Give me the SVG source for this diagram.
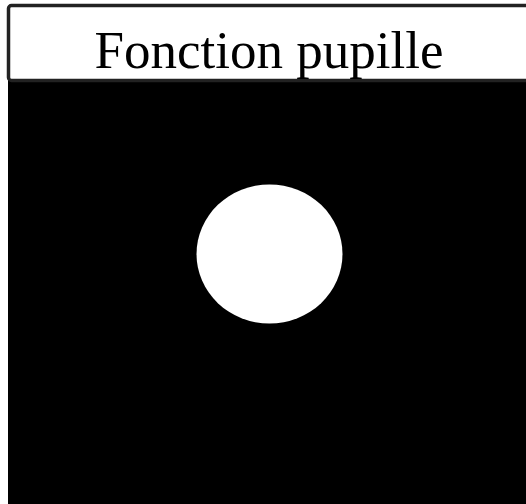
<svg xmlns="http://www.w3.org/2000/svg" width="526" height="504" viewBox="0 0 526 504">
<style>
.title{font-family:"Liberation Serif","Times New Roman",serif;font-size:53px;fill:#000}
</style>
<rect width="526" height="504" fill="#fff"/>
<g id="pupil-image">
<rect x="8" y="80" width="530" height="430" fill="#000"/>
<ellipse cx="269.5" cy="254" rx="73" ry="69.5" fill="#fff"/>
</g>
<g id="header">
<rect x="8.5" y="5.5" width="530" height="75" rx="3" fill="#fff" stroke="#222" stroke-width="3.5"/>
<text class="title" x="269" y="68" text-anchor="middle">Fonction pupille</text>
</g>
</svg>
